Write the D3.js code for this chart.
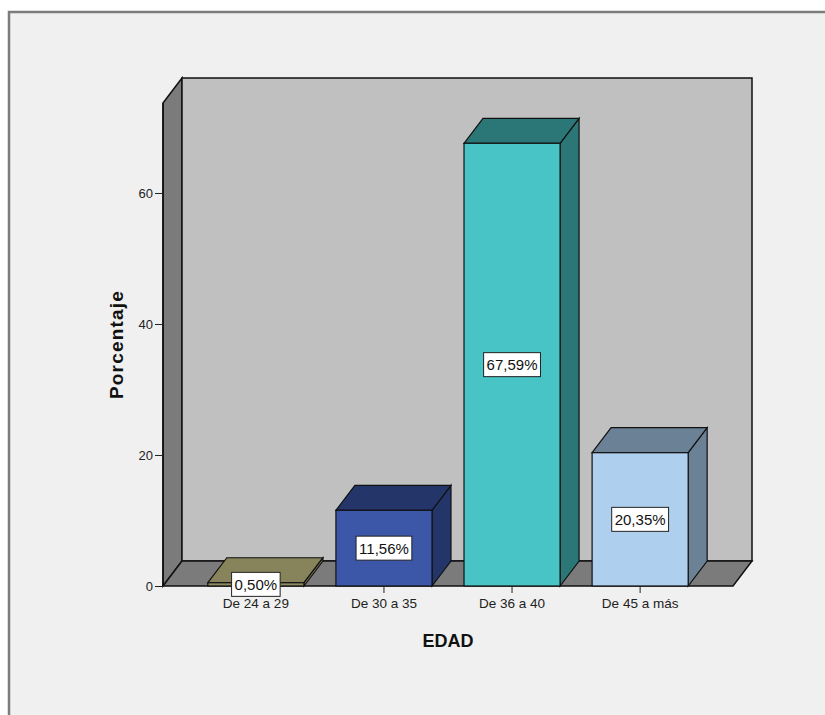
<!DOCTYPE html>
<html>
<head>
<meta charset="UTF-8">
<title>EDAD</title>
<script src="https://d3js.org/d3.v7.min.js"></script>
<style>
  body { margin: 0; background: #fff; }
  text { font-family: "Liberation Sans", Arial, sans-serif; }
</style>
</head>
<body>
<svg id="chart"></svg>
<script>
// data
const categories = ["De 24 a 29", "De 30 a 35", "De 36 a 40", "De 45 a más"];
const values = [0.50, 11.56, 67.59, 20.35];
const valueLabels = ["0,50%", "11,56%", "67,59%", "20,35%"];
const yTicks = [0, 20, 40, 60];
const frontColors = ["#8c8a5f", "#3c56a8", "#48c3c6", "#aed0ee"];
const darkColors = ["#87845c", "#24356a", "#2b7777", "#6b8195"];

const width = 825, height = 715;
const plot = {left: 163, right: 733, top: 103, bottom: 586};
const depth = {dx: 19, dy: 25};

const svg = d3.select("#chart").attr("width", width).attr("height", height);

// outer frame
svg.append("rect")
  .attr("x", 9).attr("y", 12).attr("width", 900).attr("height", 800)
  .attr("fill", "#f0f0f0").attr("stroke", "#7c7c7c").attr("stroke-width", 2.5);

const y = d3.scaleLinear().domain([0, 73.74]).range([plot.bottom, plot.top]);
const x = d3.scaleBand().domain(categories).range([plot.left, plot.right])
  .paddingInner(0.25).paddingOuter(0.35);

const g = svg.append("g");
const line = d3.line();

// left wall
g.append("path")
  .attr("d", line([[plot.left, plot.top], [plot.left + depth.dx, plot.top - depth.dy],
    [plot.left + depth.dx, plot.bottom - depth.dy], [plot.left, plot.bottom]]) + "Z")
  .attr("fill", "#7b7b7b").attr("stroke", "#111").attr("stroke-width", 1.5);

// back wall
g.append("rect")
  .attr("x", plot.left + depth.dx).attr("y", plot.top - depth.dy)
  .attr("width", plot.right - plot.left).attr("height", plot.bottom - plot.top)
  .attr("fill", "#c0c0c0").attr("stroke", "#111").attr("stroke-width", 1.5);

// floor
g.append("path")
  .attr("d", line([[plot.left, plot.bottom], [plot.left + depth.dx, plot.bottom - depth.dy],
    [plot.right + depth.dx, plot.bottom - depth.dy], [plot.right, plot.bottom]]) + "Z")
  .attr("fill", "#7b7b7b").attr("stroke", "#111").attr("stroke-width", 1.5);

// bars
const bars = g.selectAll(".bar").data(categories).enter().append("g").attr("class", "bar");
bars.each(function(c, i) {
  const b = d3.select(this);
  const x0 = x(c), x1 = x(c) + x.bandwidth();
  const yt = y(values[i]), yb = y(0);
  b.append("path")
    .attr("d", line([[x1, yt], [x1 + depth.dx, yt - depth.dy], [x1 + depth.dx, yb - depth.dy], [x1, yb]]) + "Z")
    .attr("fill", darkColors[i]).attr("stroke", "#111").attr("stroke-width", 1.2);
  b.append("path")
    .attr("d", line([[x0, yt], [x0 + depth.dx, yt - depth.dy], [x1 + depth.dx, yt - depth.dy], [x1, yt]]) + "Z")
    .attr("fill", darkColors[i]).attr("stroke", "#111").attr("stroke-width", 1.2);
  b.append("rect")
    .attr("x", x0).attr("y", yt).attr("width", x.bandwidth()).attr("height", yb - yt)
    .attr("fill", frontColors[i]).attr("stroke", "#111").attr("stroke-width", 1.2);
});

// y axis
const yAxis = svg.append("g")
  .attr("transform", `translate(${plot.left},0)`)
  .call(d3.axisLeft(y).tickValues(yTicks).tickSize(8).tickPadding(2));
yAxis.select(".domain").attr("stroke", "#111").attr("stroke-width", 1.5)
  .attr("d", `M0,${plot.top}V${plot.bottom}`);
yAxis.selectAll(".tick line").attr("stroke", "#222");
yAxis.selectAll(".tick text").attr("font-size", 13).attr("fill", "#222")
  .attr("font-family", "Liberation Sans, Arial, sans-serif");

// x axis
const xAxis = svg.append("g")
  .attr("transform", `translate(0,${plot.bottom})`)
  .call(d3.axisBottom(x).tickSize(7).tickPadding(5));
xAxis.select(".domain").remove();
xAxis.selectAll(".tick line").attr("stroke", "#222");
xAxis.selectAll(".tick text").attr("font-size", 13.5).attr("fill", "#222")
  .attr("font-family", "Liberation Sans, Arial, sans-serif");

// value labels
const labels = svg.selectAll(".vlabel").data(categories).enter().append("g").attr("class", "vlabel");
labels.each(function(c, i) {
  const l = d3.select(this);
  const cx = x(c) + x.bandwidth() / 2;
  const cy = (y(values[i]) + y(0)) / 2;
  const r = l.append("rect").attr("fill", "#fff").attr("stroke", "#222").attr("stroke-width", 1);
  const t = l.append("text").attr("x", cx).attr("y", cy).attr("text-anchor", "middle")
    .attr("dy", "0.36em").attr("font-size", 15).attr("fill", "#111").text(valueLabels[i]);
  const w = t.node().getComputedTextLength() + 6;
  r.attr("x", cx - w / 2).attr("y", cy - 12).attr("width", w).attr("height", 24);
});

// axis titles
svg.append("text")
  .attr("transform", `translate(123,${(plot.top + plot.bottom) / 2})rotate(-90)`)
  .attr("text-anchor", "middle").attr("font-size", 19).attr("font-weight", "bold")
  .attr("letter-spacing", 1.2).attr("fill", "#111").text("Porcentaje");

svg.append("text")
  .attr("x", (plot.left + plot.right) / 2).attr("y", 647)
  .attr("text-anchor", "middle").attr("font-size", 18).attr("font-weight", "bold")
  .attr("fill", "#111").text("EDAD");
</script>
</body>
</html>
